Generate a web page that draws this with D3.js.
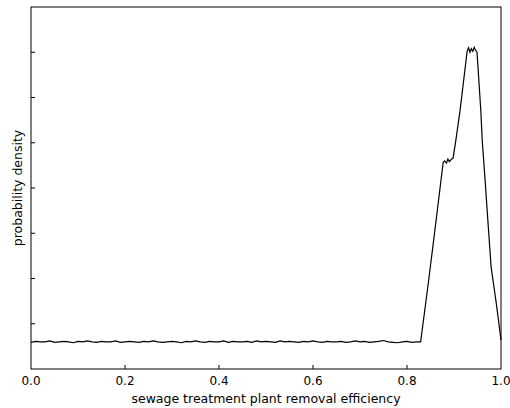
<!DOCTYPE html>
<html>
<head>
<meta charset="utf-8">
<script src="https://cdn.jsdelivr.net/npm/d3@7"></script>
<style>
  body { margin: 0; background: #fff; }
  text { font-family: "DejaVu Sans", sans-serif; }
</style>
</head>
<body>
<script>
(function() {

// flat part of the density, one value every 0.01 from 0.00 to 0.82
var flat_x0 = 0, flat_dx = 0.01;
var flat_y = [
  0.59, 0.61, 0.60, 0.60, 0.62, 0.59, 0.60, 0.61, 0.60, 0.58,
  0.61, 0.60, 0.62, 0.60, 0.59, 0.61, 0.60, 0.60, 0.62, 0.59,
  0.60, 0.61, 0.60, 0.59, 0.61, 0.60, 0.62, 0.60, 0.59, 0.60,
  0.61, 0.60, 0.58, 0.61, 0.60, 0.62, 0.60, 0.59, 0.61, 0.60,
  0.60, 0.62, 0.59, 0.61, 0.60, 0.60, 0.61, 0.59, 0.62, 0.60,
  0.61, 0.60, 0.59, 0.62, 0.60, 0.61, 0.60, 0.59, 0.61, 0.60,
  0.62, 0.60, 0.59, 0.61, 0.60, 0.60, 0.61, 0.59, 0.60, 0.62,
  0.60, 0.61, 0.59, 0.60, 0.61, 0.63, 0.60, 0.59, 0.58, 0.60,
  0.61, 0.59, 0.60
];

// the peak, read point by point
var peak_x = [0.829, 0.846, 0.862, 0.877, 0.880, 0.884, 0.887, 0.890, 0.894, 0.898,
              0.904, 0.913, 0.928, 0.931, 0.934, 0.937, 0.940, 0.943, 0.946, 0.949,
              0.957, 0.960, 0.966, 0.972, 0.979, 0.990, 1.000];
var peak_y = [0.60, 1.95, 3.29, 4.57, 4.60, 4.55, 4.64, 4.58, 4.63, 4.66,
              5.06, 5.72, 7.03, 7.10, 7.00, 7.08, 7.02, 7.11, 7.04, 7.00,
              5.72, 5.06, 4.20, 3.29, 2.25, 1.45, 0.64];

var x_ticks = [0, 0.2, 0.4, 0.6, 0.8, 1.0];
var y_ticks = [0, 1, 2, 3, 4, 5, 6, 7, 8];

var pts = [], i;
for (i=0; i<flat_y.length; i++)
  pts.push([flat_x0 + i*flat_dx, flat_y[i]]);
for (i=0; i<peak_x.length; i++)
  pts.push([peak_x[i], peak_y[i]]);

var width = 510, height = 408,
    left = 31, right = 501, top = 7, bottom = 369;

var x = d3.scaleLinear().domain([0, 1]).range([left, right]),
    y = d3.scaleLinear().domain([0, 8]).range([bottom, top]);

var svg = d3.select("body").append("svg")
  .attr("width", width)
  .attr("height", height);

// ticks, inward
svg.append("g").selectAll("line")
  .data(x_ticks.slice(1, -1))
  .enter().append("line")
    .attr("x1", function(d) { return x(d); })
    .attr("x2", function(d) { return x(d); })
    .attr("y1", bottom)
    .attr("y2", bottom - 4)
    .attr("stroke", "#000");

svg.append("g").selectAll("line")
  .data(y_ticks.slice(1, -1))
  .enter().append("line")
    .attr("x1", left)
    .attr("x2", left + 4)
    .attr("y1", function(d) { return y(d); })
    .attr("y2", function(d) { return y(d); })
    .attr("stroke", "#000");

svg.append("g").selectAll("text")
  .data(x_ticks)
  .enter().append("text")
    .attr("x", function(d) { return x(d); })
    .attr("y", 385)
    .attr("text-anchor", "middle")
    .attr("font-size", 12)
    .text(function(d) { return d3.format(".1f")(d); });

var line = d3.line()
  .x(function(d) { return x(d[0]); })
  .y(function(d) { return y(d[1]); });

svg.append("path")
  .datum(pts)
  .attr("d", line)
  .attr("fill", "none")
  .attr("stroke", "#000")
  .attr("stroke-width", 1.2);

svg.append("rect")
  .attr("x", left)
  .attr("y", top)
  .attr("width", right - left)
  .attr("height", bottom - top)
  .attr("fill", "none")
  .attr("stroke", "#000");

svg.append("text")
  .attr("x", (left + right) / 2)
  .attr("y", 403)
  .attr("text-anchor", "middle")
  .attr("font-size", 12.5)
  .text("sewage treatment plant removal efficiency");

svg.append("text")
  .attr("transform", "translate(22," + (top + bottom) / 2 + ") rotate(-90)")
  .attr("text-anchor", "middle")
  .attr("font-size", 12.5)
  .text("probability density");

})();
</script>
</body>
</html>
